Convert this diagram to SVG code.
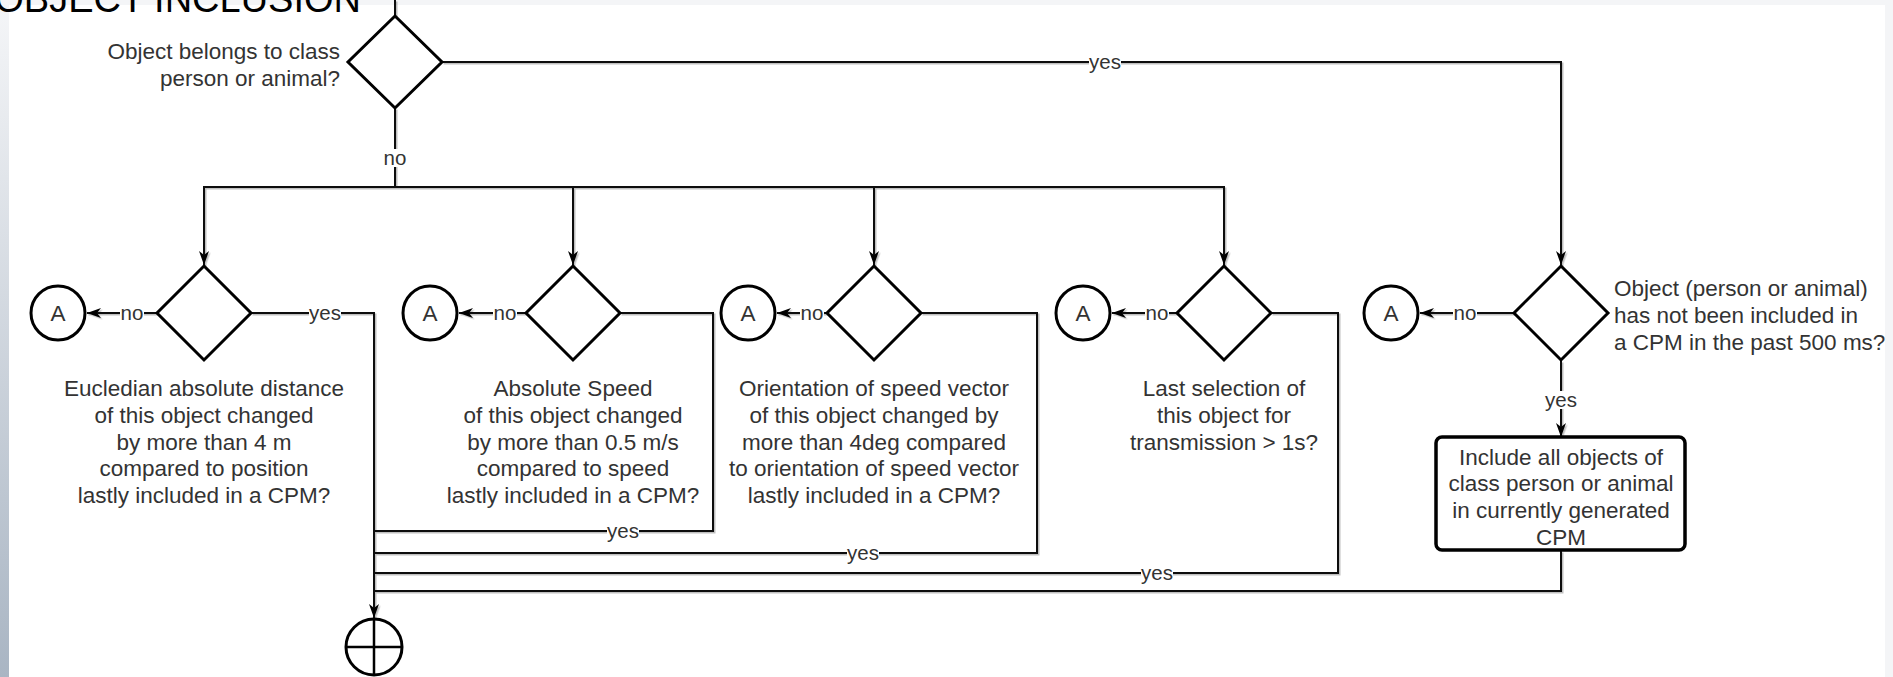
<svg xmlns="http://www.w3.org/2000/svg" width="1893" height="677" viewBox="0 0 1893 677">
<style>
text{font-family:"Liberation Sans",Arial,sans-serif;fill:#333;}
.t{font-size:22.5px;}
.c{text-anchor:middle;}
.lbl{font-size:20.5px;text-anchor:middle;}
.shape{fill:#fff;stroke:#000;stroke-width:3;}
.ln{fill:none;stroke:#111;stroke-width:2;}
.lb{fill:#fff;}
</style>
<defs>
<linearGradient id="lg" x1="0" y1="0" x2="0" y2="1">
<stop offset="0" stop-color="#f5f6f8"/>
<stop offset="1" stop-color="#a9b5c3"/>
</linearGradient>
<filter id="sh" x="-5%" y="-5%" width="110%" height="110%">
<feDropShadow dx="1.5" dy="1.5" stdDeviation="0.7" flood-color="#000" flood-opacity="0.25"/>
</filter>
<marker id="arr" viewBox="0 0 14 10" refX="14" refY="5" markerWidth="14" markerHeight="10" markerUnits="userSpaceOnUse" orient="auto">
<path d="M0,0 L14,5 L0,10 L4,5 Z" fill="#000"/>
</marker>
</defs>
<g id="background">
<rect x="0" y="0" width="1893" height="677" fill="#f4f5f7"/>
<rect x="0" y="0" width="9" height="677" fill="url(#lg)"/>
<rect x="9" y="5" width="1876" height="672" fill="#fff"/>
</g>
<text id="title" x="361" y="12" style="font-size:38px;fill:#000;text-anchor:end">OBJECT INCLUSION</text>
<g id="connectors">
<g filter="url(#sh)">
<path class="ln" d="M395,0 V16"/>
<path class="ln" d="M442,62 H1561 V265" marker-end="url(#arr)"/>
<path class="ln" d="M395,108 V187 H204 V265" marker-end="url(#arr)"/>
<path class="ln" d="M395,187 H573 V265" marker-end="url(#arr)"/>
<path class="ln" d="M395,187 H874 V265" marker-end="url(#arr)"/>
<path class="ln" d="M395,187 H1224 V265" marker-end="url(#arr)"/>
<path class="ln" d="M157,313 H87" marker-end="url(#arr)"/>
<path class="ln" d="M526,313 H459" marker-end="url(#arr)"/>
<path class="ln" d="M827,313 H777" marker-end="url(#arr)"/>
<path class="ln" d="M1177,313 H1112" marker-end="url(#arr)"/>
<path class="ln" d="M1514,313 H1420" marker-end="url(#arr)"/>
<path class="ln" d="M251,313 H374 V618" marker-end="url(#arr)"/>
<path class="ln" d="M620,313 H713 V531 H374"/>
<path class="ln" d="M921,313 H1037 V553 H374"/>
<path class="ln" d="M1271,313 H1338 V573 H374"/>
<path class="ln" d="M1561,361 V437" marker-end="url(#arr)"/>
<path class="ln" d="M1561,551 V591 H374"/>
</g>
<g id="labels">
<rect class="lb" x="1089" y="53" width="32" height="18"/><text class="lbl" x="1105" y="69">yes</text>
<rect class="lb" x="383" y="149" width="24" height="18"/><text class="lbl" x="395" y="165">no</text>
<rect class="lb" x="120" y="304" width="24" height="18"/><text class="lbl" x="132" y="320">no</text>
<rect class="lb" x="493" y="304" width="24" height="18"/><text class="lbl" x="505" y="320">no</text>
<rect class="lb" x="800" y="304" width="24" height="18"/><text class="lbl" x="812" y="320">no</text>
<rect class="lb" x="1145" y="304" width="24" height="18"/><text class="lbl" x="1157" y="320">no</text>
<rect class="lb" x="1453" y="304" width="24" height="18"/><text class="lbl" x="1465" y="320">no</text>
<rect class="lb" x="309" y="304" width="32" height="18"/><text class="lbl" x="325" y="320">yes</text>
<rect class="lb" x="607" y="522" width="32" height="18"/><text class="lbl" x="623" y="538">yes</text>
<rect class="lb" x="847" y="544" width="32" height="18"/><text class="lbl" x="863" y="560">yes</text>
<rect class="lb" x="1141" y="564" width="32" height="18"/><text class="lbl" x="1157" y="580">yes</text>
<rect class="lb" x="1545" y="391" width="32" height="18"/><text class="lbl" x="1561" y="407">yes</text>
</g>
</g>
<g id="d0">
<polygon class="shape" points="395,16 442,62 395,108 348,62"/>
<text class="t" x="340" y="59" text-anchor="end">Object belongs to class</text>
<text class="t" x="340" y="86" text-anchor="end">person or animal?</text>
</g>
<g id="d1">
<polygon class="shape" points="204,266 251,313 204,360 157,313"/>
<text class="t c" x="204" y="396">Eucledian absolute distance</text>
<text class="t c" x="204" y="423">of this object changed</text>
<text class="t c" x="204" y="450">by more than 4 m</text>
<text class="t c" x="204" y="476">compared to position</text>
<text class="t c" x="204" y="503">lastly included in a CPM?</text>
</g>
<g id="d2">
<polygon class="shape" points="573,266 620,313 573,360 526,313"/>
<text class="t c" x="573" y="396">Absolute Speed</text>
<text class="t c" x="573" y="423">of this object changed</text>
<text class="t c" x="573" y="450">by more than 0.5 m/s</text>
<text class="t c" x="573" y="476">compared to speed</text>
<text class="t c" x="573" y="503">lastly included in a CPM?</text>
</g>
<g id="d3">
<polygon class="shape" points="874,266 921,313 874,360 827,313"/>
<text class="t c" x="874" y="396">Orientation of speed vector</text>
<text class="t c" x="874" y="423">of this object changed by</text>
<text class="t c" x="874" y="450">more than 4deg compared</text>
<text class="t c" x="874" y="476">to orientation of speed vector</text>
<text class="t c" x="874" y="503">lastly included in a CPM?</text>
</g>
<g id="d4">
<polygon class="shape" points="1224,266 1271,313 1224,360 1177,313"/>
<text class="t c" x="1224" y="396">Last selection of</text>
<text class="t c" x="1224" y="423">this object for</text>
<text class="t c" x="1224" y="450">transmission &gt; 1s?</text>
</g>
<g id="d5">
<polygon class="shape" points="1561,266 1608,313 1561,360 1514,313"/>
<text class="t" x="1614" y="296">Object (person or animal)</text>
<text class="t" x="1614" y="323">has not been included in</text>
<text class="t" x="1614" y="350">a CPM in the past 500 ms?</text>
</g>
<g id="include">
<rect class="shape" x="1436" y="437" width="249" height="113" rx="6" style="stroke-width:3.5"/>
<text class="t c" x="1561" y="465">Include all objects of</text>
<text class="t c" x="1561" y="491">class person or animal</text>
<text class="t c" x="1561" y="518">in currently generated</text>
<text class="t c" x="1561" y="545">CPM</text>
</g>
<g id="a1"><circle class="shape" cx="58" cy="313" r="27"/><text class="t c" x="58" y="321">A</text></g>
<g id="a2"><circle class="shape" cx="430" cy="313" r="27"/><text class="t c" x="430" y="321">A</text></g>
<g id="a3"><circle class="shape" cx="748" cy="313" r="27"/><text class="t c" x="748" y="321">A</text></g>
<g id="a4"><circle class="shape" cx="1083" cy="313" r="27"/><text class="t c" x="1083" y="321">A</text></g>
<g id="a5"><circle class="shape" cx="1391" cy="313" r="27"/><text class="t c" x="1391" y="321">A</text></g>
<g id="end">
<circle class="shape" cx="374" cy="647" r="28"/>
<path d="M346,647 H402 M374,619 V675" stroke="#000" stroke-width="2.5" fill="none"/>
</g>
</svg>
